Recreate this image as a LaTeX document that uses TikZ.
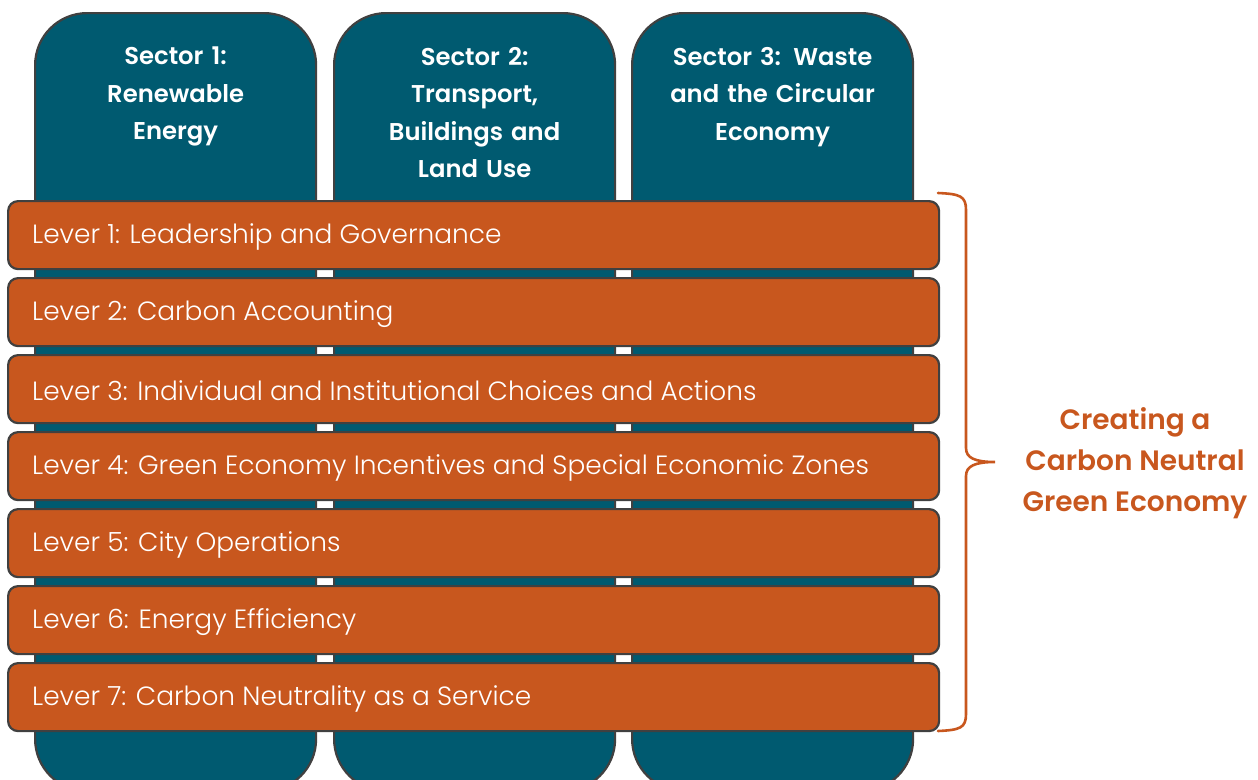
\documentclass[tikz,border=0pt]{standalone}
\usepackage{fontspec}
\setmainfont{Poppins}[UprightFont=* Light]
\newfontfamily\titlefont{Poppins}[UprightFont=* SemiBold]
\definecolor{teal}{HTML}{005A70}
\definecolor{rust}{HTML}{C8571E}
\definecolor{edge}{HTML}{404040}
\begin{document}
\begin{tikzpicture}[x=1pt,y=-1pt,
  sector/.style={draw=edge, line width=2.2pt, fill=teal, rounded corners=52pt,
    minimum width=281pt, minimum height=778pt, anchor=north west, inner sep=0pt},
  sectortitle/.style={text=white, font=\titlefont\fontsize{24.3}{37.5}\selectfont,
    align=center, anchor=north, inner sep=0pt, text width=270pt},
  lever/.style={draw=edge, line width=2.2pt, fill=rust, rounded corners=10pt,
    minimum width=931pt, minimum height=68pt, anchor=north west, inner sep=0pt},
  levertext/.style={text=white, font=\fontsize{26.4}{30}\selectfont, anchor=west, inner sep=0pt},
  brace/.style={draw=rust, line width=2.6pt, line cap=round},
  goal/.style={text=rust, font=\titlefont\fontsize{28}{41}\selectfont, align=center}
]
\useasboundingbox (0,0) rectangle (1258,779);
\node[sector] (s1) at (34,12) {};
\node[sector] (s2) at (333,12) {};
\node[sector] (s3) at (631,12) {};
\node[sectortitle] (t1) at ([yshift=-35pt]s1.north) {Sector 1:\\Renewable\\Energy};
\node[sectortitle] (t2) at ([yshift=-35pt]s2.north) {Sector 2:\\Transport,\\Buildings and\\Land Use};
\node[sectortitle] (t3) at ([yshift=-35pt]s3.north) {Sector 3: Waste\\and the Circular\\Economy};
\foreach \i/\txt in {1/{Lever 1: Leadership and Governance},
  2/{Lever 2: Carbon Accounting},
  3/{Lever 3: Individual and Institutional Choices and Actions},
  4/{Lever 4: Green Economy Incentives and Special Economic Zones},
  5/{Lever 5: City Operations},
  6/{Lever 6: Energy Efficiency},
  7/{Lever 7: Carbon Neutrality as a Service}} {
  \node[lever] (l\i) at (7,{200+77*(\i-1)}) {};
  \node[levertext] (lt\i) at ([xshift=25pt,yshift=-2pt]l\i.west) {\txt};
}
\coordinate (btop) at (938,193);
\coordinate (bbot) at (938,731);
\coordinate (btip) at (995,462);
\draw[brace] (btop) .. controls (960,194) and (966,196) .. (966,210)
  -- (966,448) .. controls (966,458) and (975,462) .. (btip)
  .. controls (975,462) and (966,466) .. (966,476)
  -- (966,714) .. controls (966,728) and (960,730) .. (bbot);
\node[goal] (g) at (1135,463) {Creating a\\Carbon Neutral\\Green Economy};
\end{tikzpicture}
\end{document}
